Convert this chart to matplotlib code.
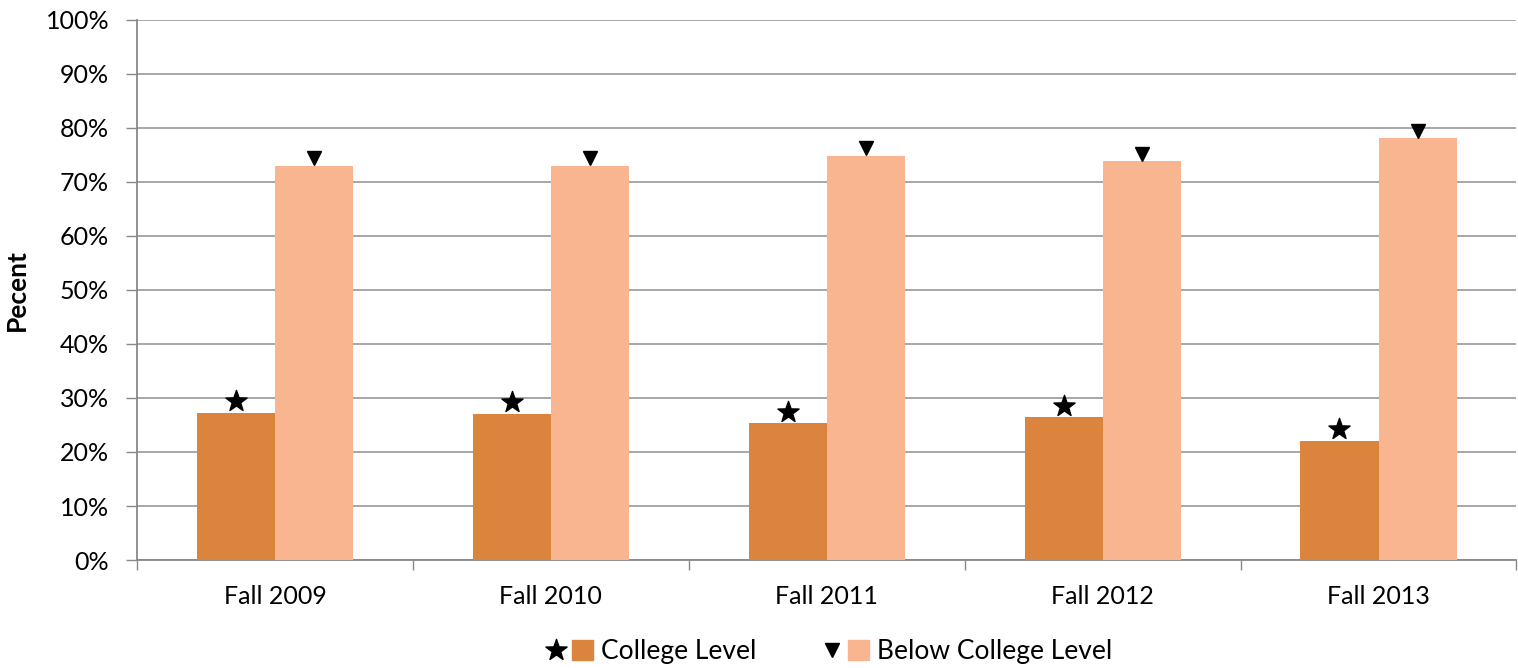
import matplotlib
matplotlib.use("Agg")
import matplotlib.pyplot as plt
import numpy as np
from matplotlib.lines import Line2D
from matplotlib.patches import Patch
from matplotlib.path import Path
from matplotlib.legend_handler import HandlerTuple
from matplotlib.transforms import offset_copy

categories = ["Fall 2009", "Fall 2010", "Fall 2011", "Fall 2012", "Fall 2013"]
college = [27.2, 27.1, 25.3, 26.4, 22.1]
below = [73.0, 73.0, 74.9, 73.8, 78.1]
yticks = [0, 10, 20, 30, 40, 50, 60, 70, 80, 90, 100]

plt.rcParams['font.family'] = ['Lato', 'DejaVu Sans']

# slim five-pointed star marker (glyph-like)
ang = np.pi / 2 + np.arange(10) * np.pi / 5
rad = np.where(np.arange(10) % 2 == 0, 1.0, 0.40)
verts = np.column_stack([rad * np.cos(ang), rad * np.sin(ang)])
verts = np.vstack([verts, verts[:1]])
codes = [Path.MOVETO] + [Path.LINETO] * 9 + [Path.CLOSEPOLY]
star = Path(verts, codes)

fig = plt.figure(figsize=(15.18, 6.68), dpi=100)
ax = fig.add_axes([137/1518, 1 - 560/668, (1518-137)/1518 - 0.001, 540/668])

c1 = "#DB843D"
c2 = "#F8B590"
x = np.arange(len(categories))
w = 0.283
ax.bar(x - w/2, college, width=w, color=c1, zorder=3)
ax.bar(x + w/2, below, width=w, color=c2, zorder=3)

tr_star = offset_copy(ax.transData, fig=fig, x=0, y=8.5, units="points")
tr_tri = offset_copy(ax.transData, fig=fig, x=0, y=5.5, units="points")
ax.plot(x - w/2, college, marker=star, markersize=16, color="black",
        linestyle="none", zorder=4, transform=tr_star)
ax.plot(x + w/2, below, marker="v", markersize=10, color="black",
        linestyle="none", zorder=4, transform=tr_tri)

ax.set_xlim(-0.5, len(categories) - 0.5)
ax.set_ylim(0, 100)
ax.set_yticks(yticks)
ax.set_yticklabels([f"{t}%" for t in yticks], fontsize=18)
ax.set_xticks(x)
ax.set_xticklabels(categories, fontsize=18)
ax.tick_params(axis="x", length=0, pad=18)
ax.set_xticks(np.arange(-0.5, len(categories)), minor=True)
ax.tick_params(axis="x", which="minor", length=7, color="#888888", width=1)
ax.tick_params(axis="y", length=8, color="#888888", width=1, pad=12)

ax.grid(axis="y", color="#A0A0A0", linewidth=1.3, zorder=0)
for s in ["top", "right"]:
    ax.spines[s].set_visible(False)
for s in ["left", "bottom"]:
    ax.spines[s].set_color("#888888")
    ax.spines[s].set_linewidth(1.3)

ax.set_ylabel("Pecent", fontsize=19, fontweight="bold", labelpad=12)

h1 = (Line2D([], [], marker=star, color="black", linestyle="none", markersize=16),
      Patch(color=c1))
h2 = (Line2D([], [], marker="v", color="black", linestyle="none", markersize=10),
      Patch(color=c2))
fig.legend([h1, h2], ["College Level", "Below College Level"],
           handler_map={tuple: HandlerTuple(ndivide=None, pad=0.2)},
           loc="center", bbox_to_anchor=(0.546, 1 - 652/668), ncol=2,
           frameon=False, fontsize=19, handlelength=1.8, handletextpad=0.3,
           columnspacing=2.5, handleheight=0.8)

fig.savefig("out.png", dpi=100)
